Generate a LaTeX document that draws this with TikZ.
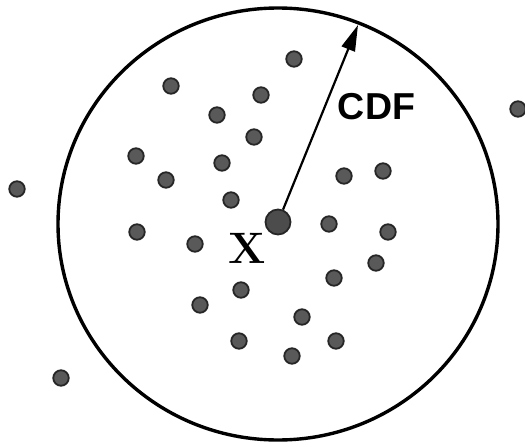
\documentclass[tikz,border=0pt]{standalone}
\usepackage{fontspec}
\newfontfamily\labelsans{Liberation Sans}
\usetikzlibrary{arrows.meta}
\begin{document}
\begin{tikzpicture}[x=1pt,y=-1pt,
  pt/.style={circle,draw=black!85,fill=black!65,line width=1.8pt,minimum size=15.5pt,inner sep=0pt},
  bigpt/.style={circle,draw=black!85,fill=black!70,line width=1.8pt,minimum size=25pt,inner sep=0pt}]
\useasboundingbox (0,0) rectangle (525,447);
\draw[line width=3.4pt] (278,224) ellipse [x radius=220, y radius=216];
\node[bigpt] (c) at (278,222) {};
\coordinate (tip) at (358,25);
\draw[line width=2.2pt,-{Triangle[length=26pt,width=14pt]}] (c) -- (tip);
\node[inner sep=0pt] (cdf) at (376.5,106.5) {\labelsans\bfseries\fontsize{37.5}{40}\selectfont CDF};
\node[inner sep=0pt] (x) at (247.5,248) {\fontsize{44}{44}\selectfont\bfseries X};
\node[pt] (p1) at (171,86) {};
\node[pt] (p2) at (294,59) {};
\node[pt] (p3) at (261,95) {};
\node[pt] (p4) at (217,115) {};
\node[pt] (p5) at (254,137) {};
\node[pt] (p6) at (136,156) {};
\node[pt] (p7) at (222,163) {};
\node[pt] (p8) at (166,180) {};
\node[pt] (p9) at (231,200) {};
\node[pt] (p10) at (17,189) {};
\node[pt] (p11) at (137,232) {};
\node[pt] (p12) at (195,244) {};
\node[pt] (p13) at (344,176) {};
\node[pt] (p14) at (383,171) {};
\node[pt] (p15) at (329,224) {};
\node[pt] (p16) at (388,232) {};
\node[pt] (p17) at (376,263) {};
\node[pt] (p18) at (334,278) {};
\node[pt] (p19) at (241,290) {};
\node[pt] (p20) at (200,305) {};
\node[pt] (p21) at (302,317) {};
\node[pt] (p22) at (239,341) {};
\node[pt] (p23) at (336,341) {};
\node[pt] (p24) at (292,356) {};
\node[pt] (p25) at (61,378) {};
\node[pt] (p26) at (518,109) {};
\end{tikzpicture}
\end{document}
